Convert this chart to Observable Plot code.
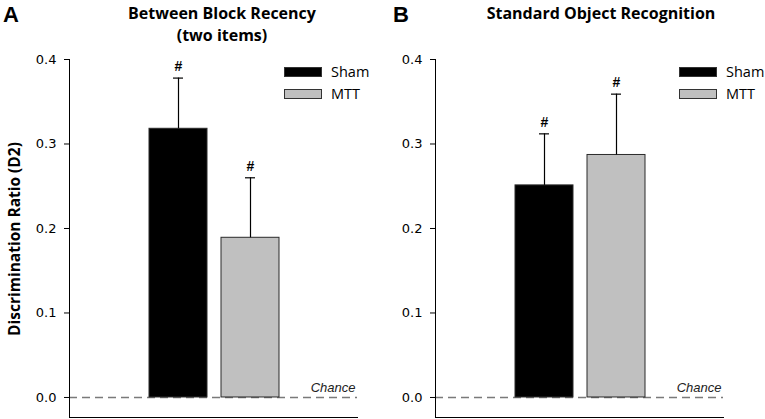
<!DOCTYPE html>
<html><head><meta charset="utf-8">
<script src="https://cdn.jsdelivr.net/npm/d3@7"></script>
<script src="https://cdn.jsdelivr.net/npm/@observablehq/plot@0.6"></script>
<style>
body{margin:0;background:#fff;}
#wrap{position:relative;width:765px;height:419px;overflow:hidden;font-family:"Open Sans",sans-serif;color:#000;}
.abs{position:absolute;white-space:nowrap;}
.panel{position:absolute;top:0;}
.title{font-weight:bold;font-size:16px;line-height:22px;text-align:center;transform:translateX(-50%);}
.letter{font-family:"Liberation Sans",Arial,sans-serif;font-weight:bold;font-size:22px;line-height:22px;}
.sw{position:absolute;width:38px;height:10px;box-sizing:border-box;}
.lg{font-size:14.5px;line-height:15px;}
.ylab{font-weight:bold;font-size:15.5px;line-height:16px;transform:translate(-50%,-50%) rotate(-90deg);}
</style></head><body><div id="wrap"></div>
<script>
const groups = ["Sham", "MTT"];
const groupColors = ["#000000", "#c0c0c0"];
const panelA_means = [0.318, 0.189];
const panelA_sem = [0.060, 0.071];
const panelB_means = [0.251, 0.287];
const panelB_sem = [0.061, 0.072];
const panelLetters = ["A", "B"];
const panelTitles = [["Between Block Recency", "(two items)"], ["Standard Object Recognition"]];
const yTicks = [0, 0.1, 0.2, 0.3, 0.4];
const yLabel = "Discrimination Ratio (D2)";
const chanceLabel = "Chance";
const sigMark = "#";

const wrap = document.getElementById("wrap");

function makePanel(means, sems) {
  const data = groups.map((g, i) => ({group: g, mean: means[i], sem: sems[i], top: means[i] + sems[i]}));
  return Plot.plot({
    width: 399,
    height: 419,
    marginLeft: 69,
    marginRight: 42,
    marginTop: 59,
    marginBottom: 2,
    style: {fontFamily: "DejaVu Sans, sans-serif", fontSize: "13px", background: "transparent", color: "#000"},
    x: {type: "band", domain: groups, range: [148, 279], paddingInner: 0.2, paddingOuter: 0, axis: null},
    y: {domain: [-0.0237, 0.4], axis: null},
    color: {domain: groups, range: groupColors},
    marks: [
      Plot.ruleY([0], {stroke: "#7a7a7a", strokeWidth: 1.5, strokeDasharray: "8,5"}),
      Plot.text([0], {y: d => d, text: () => chanceLabel, frameAnchor: "right", textAnchor: "end", lineAnchor: "bottom", dx: -2, dy: -5, fontStyle: "italic", fontFamily: "Liberation Sans, Arial, sans-serif", fontSize: 13, fill: "#222"}),
      Plot.barY(data, {x: "group", y: "mean", fill: "group", stroke: "#2a2a2a", strokeWidth: 1}),
      Plot.ruleX(data, {x: "group", y1: "mean", y2: "top", stroke: "#000", strokeWidth: 1.2}),
      Plot.tickY(data, {x: "group", y: "top", insetLeft: 24, insetRight: 24, stroke: "#000", strokeWidth: 1.2}),
      Plot.text(data, {x: "group", y: "top", text: () => sigMark, lineAnchor: "bottom", dy: -7, fontWeight: "bold", fontSize: 14, fontFamily: "Liberation Sans, Arial, sans-serif"}),
      Plot.axisY({ticks: yTicks, tickFormat: d3.format(".1f"), tickSize: 5, tickPadding: 8, label: null}),
      Plot.frame({anchor: "left", stroke: "#000"}),
      Plot.frame({anchor: "bottom", stroke: "#000"})
    ]
  });
}

const panels = [[panelA_means, panelA_sem, 0], [panelB_means, panelB_sem, 366]];
panels.forEach(([m, s, left]) => {
  const svg = makePanel(m, s);
  svg.classList.add("panel");
  svg.style.left = left + "px";
  wrap.appendChild(svg);
});

function addDiv(cls, text, left, top) {
  const d = document.createElement("div");
  d.className = "abs " + cls;
  d.textContent = text;
  d.style.left = left + "px";
  d.style.top = top + "px";
  wrap.appendChild(d);
  return d;
}

// panel letters
addDiv("letter", panelLetters[0], 3, 4);
addDiv("letter", panelLetters[1], 393, 4);
// titles
addDiv("title", panelTitles[0][0], 222, 2);
addDiv("title", panelTitles[0][1], 222, 24);
addDiv("title", panelTitles[1][0], 601, 2);
// y label
addDiv("ylab", yLabel, 14, 239);
// legends
[284, 679].forEach(lx => {
  groups.forEach((g, i) => {
    const sw = document.createElement("div");
    sw.className = "sw";
    sw.style.left = lx + "px";
    sw.style.top = (67 + i * 22) + "px";
    sw.style.background = groupColors[i];
    sw.style.border = "1px solid #333";
    wrap.appendChild(sw);
    addDiv("lg", g, lx + 47, 64 + i * 22);
  });
});
</script></body></html>
